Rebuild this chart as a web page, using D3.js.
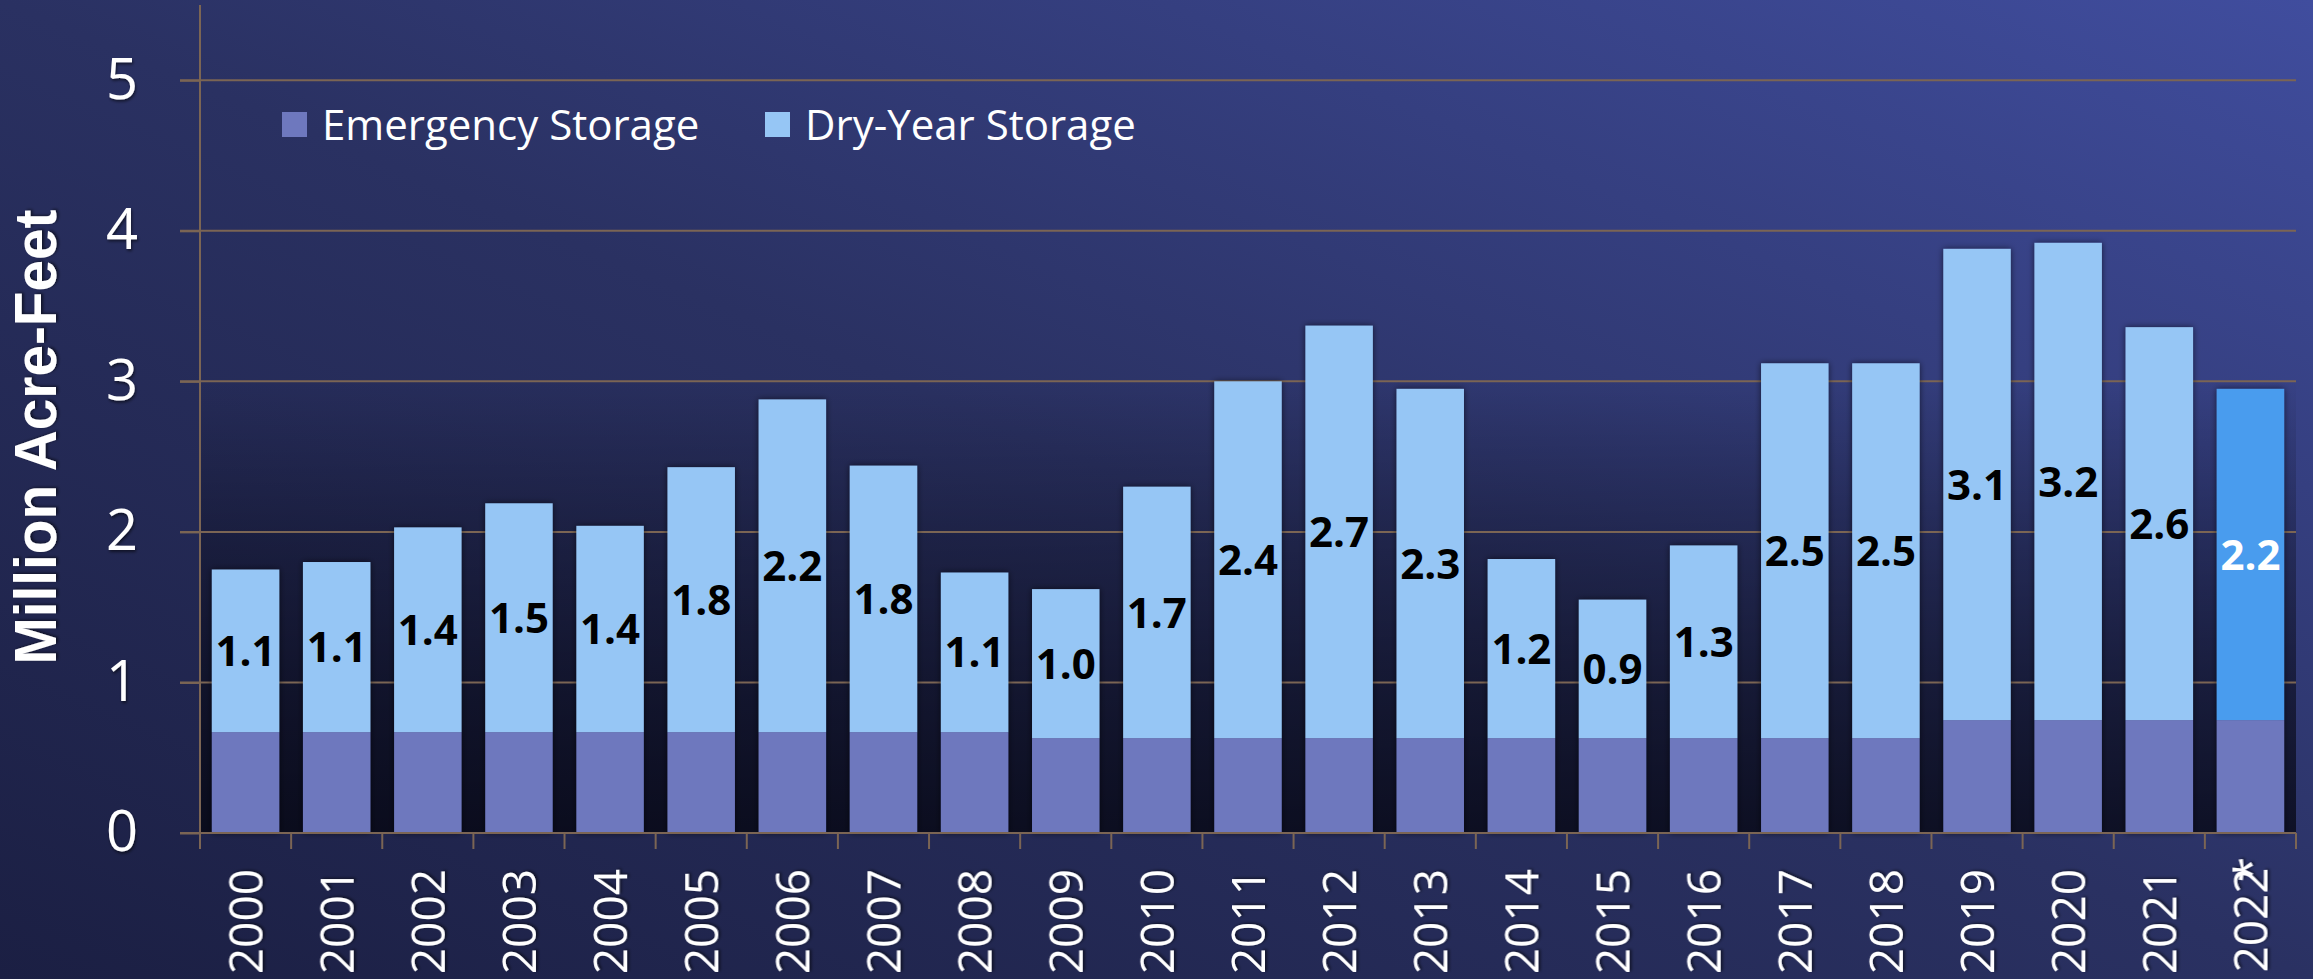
<!DOCTYPE html>
<html>
<head>
<meta charset="utf-8">
<script src="https://cdn.jsdelivr.net/npm/d3@7"></script>
<style>
  html, body { margin: 0; padding: 0; background: #262c5c; overflow: hidden; }
  #chart { width: 2313px; height: 979px; }
</style>
</head>
<body>
<div id="chart"></div>
<script>
var years = ["2000", "2001", "2002", "2003", "2004", "2005", "2006", "2007", "2008", "2009", "2010",
  "2011", "2012", "2013", "2014", "2015", "2016", "2017", "2018", "2019", "2020", "2021", "2022*"];

var emergency = [0.67, 0.67, 0.67, 0.67, 0.67, 0.67, 0.67, 0.67, 0.67, 0.63, 0.63,
  0.63, 0.63, 0.63, 0.63, 0.63, 0.63, 0.63, 0.63, 0.75, 0.75, 0.75, 0.75];

var dryYear = [1.08, 1.13, 1.36, 1.52, 1.37, 1.76, 2.21, 1.77, 1.06, 0.99, 1.67,
  2.37, 2.74, 2.32, 1.19, 0.92, 1.28, 2.49, 2.49, 3.13, 3.17, 2.61, 2.20];

var yTicks = [0, 1, 2, 3, 4, 5];

var seriesNames = ["Emergency Storage", "Dry-Year Storage"];

var width = 2313;
var height = 979;

var svg = d3.select("#chart").append("svg")
    .attr("width", width)
    .attr("height", height);

var defs = svg.append("defs");

// page background
var bg = defs.append("linearGradient")
    .attr("id", "bg")
    .attr("x1", 0).attr("y1", 1)
    .attr("x2", 1).attr("y2", 0);
bg.append("stop").attr("offset", "0%").attr("stop-color", "#1b1f43");
bg.append("stop").attr("offset", "50%").attr("stop-color", "#2a3162");
bg.append("stop").attr("offset", "100%").attr("stop-color", "#404d9e");

// darkening toward the bottom of the plot
var shade = defs.append("linearGradient")
    .attr("id", "shade")
    .attr("x1", 0).attr("y1", 0)
    .attr("x2", 0).attr("y2", 1);
shade.append("stop").attr("offset", "0.45").attr("stop-color", "#000006").attr("stop-opacity", 0);
shade.append("stop").attr("offset", "0.64").attr("stop-color", "#000006").attr("stop-opacity", 0.27);
shade.append("stop").attr("offset", "0.82").attr("stop-color", "#000006").attr("stop-opacity", 0.5);
shade.append("stop").attr("offset", "1").attr("stop-color", "#000006").attr("stop-opacity", 0.68);

var glow = defs.append("filter")
    .attr("id", "glow")
    .attr("x", "-20%").attr("y", "-20%")
    .attr("width", "140%").attr("height", "140%");
glow.append("feDropShadow")
    .attr("dx", 0).attr("dy", 0)
    .attr("stdDeviation", 3)
    .attr("flood-color", "#000010")
    .attr("flood-opacity", 0.6);

var txtShadow = defs.append("filter")
    .attr("id", "txtShadow");
txtShadow.append("feDropShadow")
    .attr("dx", 1).attr("dy", 2)
    .attr("stdDeviation", 1.5)
    .attr("flood-color", "#000000")
    .attr("flood-opacity", 0.55);

svg.append("rect")
    .attr("width", width)
    .attr("height", height)
    .attr("fill", "url(#bg)");

var left = 200, right = 2296;

var xScale = d3.scaleBand()
    .domain(years)
    .range([left, right])
    .paddingInner(0.26)
    .paddingOuter(0.13);

var yScale = d3.scaleLinear()
    .domain([0, 5.5])
    .range([833, 5]);

var colors = { emergency: "#6e78be", dry: "#96c6f5", dryLast: "#4a9cee" };
var gridColor = "#7b6554";

// plot shading
svg.append("rect")
    .attr("x", left)
    .attr("y", yScale(5.5))
    .attr("width", right - left)
    .attr("height", yScale(0) - yScale(5.5))
    .attr("fill", "url(#shade)");

// gridlines
svg.selectAll(".grid")
    .data(yTicks.slice(1))
    .enter()
    .append("line")
    .attr("class", "grid")
    .attr("x1", left - 20)
    .attr("x2", right)
    .attr("y1", function(d) { return yScale(d); })
    .attr("y2", function(d) { return yScale(d); })
    .attr("stroke", gridColor)
    .attr("stroke-width", 2);

var rows = years.map(function(y, i) {
  return { year: y, emergency: emergency[i], dry: dryYear[i], last: i === years.length - 1 };
});

var bars = svg.append("g").attr("filter", "url(#glow)");

bars.selectAll(".emg")
    .data(rows)
    .enter()
    .append("rect")
    .attr("class", "emg")
    .attr("x", function(d) { return xScale(d.year); })
    .attr("width", xScale.bandwidth())
    .attr("y", function(d) { return yScale(d.emergency); })
    .attr("height", function(d) { return yScale(0) - yScale(d.emergency); })
    .attr("fill", colors.emergency);

bars.selectAll(".dry")
    .data(rows)
    .enter()
    .append("rect")
    .attr("class", "dry")
    .attr("x", function(d) { return xScale(d.year); })
    .attr("width", xScale.bandwidth())
    .attr("y", function(d) { return yScale(d.emergency + d.dry); })
    .attr("height", function(d) { return yScale(d.emergency) - yScale(d.emergency + d.dry); })
    .attr("fill", function(d) { return d.last ? colors.dryLast : colors.dry; });

// value labels
svg.selectAll(".val")
    .data(rows)
    .enter()
    .append("text")
    .attr("class", "val")
    .attr("x", function(d) { return xScale(d.year) + xScale.bandwidth() / 2; })
    .attr("y", function(d) { return yScale(d.emergency + d.dry / 2); })
    .attr("dy", "0.36em")
    .attr("text-anchor", "middle")
    .style("font-family", "'Open Sans', sans-serif")
    .style("font-weight", "bold")
    .style("font-size", "42px")
    .attr("fill", function(d) { return d.last ? "#ffffff" : "#000000"; })
    .text(function(d) { return d3.format(".1f")(d.dry); });

// y axis
var yAxis = svg.append("g")
    .attr("transform", "translate(" + left + ",0)")
    .call(d3.axisLeft(yScale).tickValues(yTicks).tickSize(20).tickPadding(42).tickFormat(d3.format("d")));
yAxis.select(".domain").remove();
yAxis.append("line")
    .attr("x1", 0).attr("x2", 0)
    .attr("y1", yScale(5.5)).attr("y2", yScale(0) + 16)
    .attr("stroke", gridColor)
    .attr("stroke-width", 2);
yAxis.selectAll(".tick line")
    .attr("stroke", gridColor)
    .attr("stroke-width", 2);
yAxis.selectAll("text")
    .attr("fill", "#ffffff")
    .attr("filter", "url(#txtShadow)")
    .style("font-family", "'Open Sans', sans-serif")
    .style("font-size", "56px");

// x axis
var xAxis = svg.append("g")
    .attr("transform", "translate(0," + yScale(0) + ")")
    .call(d3.axisBottom(xScale).tickSize(0).tickPadding(0));
xAxis.select(".domain").remove();
xAxis.append("line")
    .attr("x1", left - 20).attr("x2", right)
    .attr("y1", 0).attr("y2", 0)
    .attr("stroke", gridColor)
    .attr("stroke-width", 2);
xAxis.selectAll(".bound")
    .data(d3.range(years.length + 1))
    .enter()
    .append("line")
    .attr("class", "bound")
    .attr("x1", function(i) { return left + i * xScale.step(); })
    .attr("x2", function(i) { return left + i * xScale.step(); })
    .attr("y1", 0).attr("y2", 16)
    .attr("stroke", gridColor)
    .attr("stroke-width", 2);
xAxis.selectAll(".tick text")
    .attr("fill", "#ffffff")
    .attr("filter", "url(#txtShadow)")
    .style("font-family", "'Open Sans', sans-serif")
    .style("font-size", "46px")
    .style("text-anchor", "end")
    .attr("dx", "-36px")
    .attr("dy", "0.36em")
    .attr("transform", "rotate(-90)");

// the asterisk on the last year sits over its final digit
xAxis.selectAll(".tick text")
    .filter(function(d) { return d.indexOf("*") >= 0; })
    .attr("dx", "-24px")
    .text(function(d) { return d.replace("*", ""); })
    .append("tspan")
    .attr("dx", "-15px")
    .text("*");

// y axis title
svg.append("text")
    .attr("transform", "translate(56,437) rotate(-90)")
    .attr("text-anchor", "middle")
    .attr("fill", "#ffffff")
    .attr("filter", "url(#txtShadow)")
    .attr("textLength", 455)
    .attr("lengthAdjust", "spacingAndGlyphs")
    .style("font-family", "'Liberation Sans Narrow', 'Liberation Sans', Arial, sans-serif")
    .style("font-weight", "bold")
    .style("font-size", "60px")
    .text("Million Acre-Feet");

// legend
var legendX = [282, 765];
var legendColors = [colors.emergency, colors.dry];
var legend = svg.selectAll(".legend")
    .data(seriesNames)
    .enter()
    .append("g")
    .attr("class", "legend")
    .attr("transform", function(d, i) { return "translate(" + legendX[i] + ",112)"; });
legend.append("rect")
    .attr("width", 25)
    .attr("height", 25)
    .attr("fill", function(d, i) { return legendColors[i]; });
legend.append("text")
    .attr("x", 40)
    .attr("y", 13)
    .attr("dy", "0.36em")
    .attr("fill", "#ffffff")
    .style("font-family", "'Open Sans', sans-serif")
    .style("font-size", "42px")
    .text(function(d) { return d; });
</script>
</body>
</html>
